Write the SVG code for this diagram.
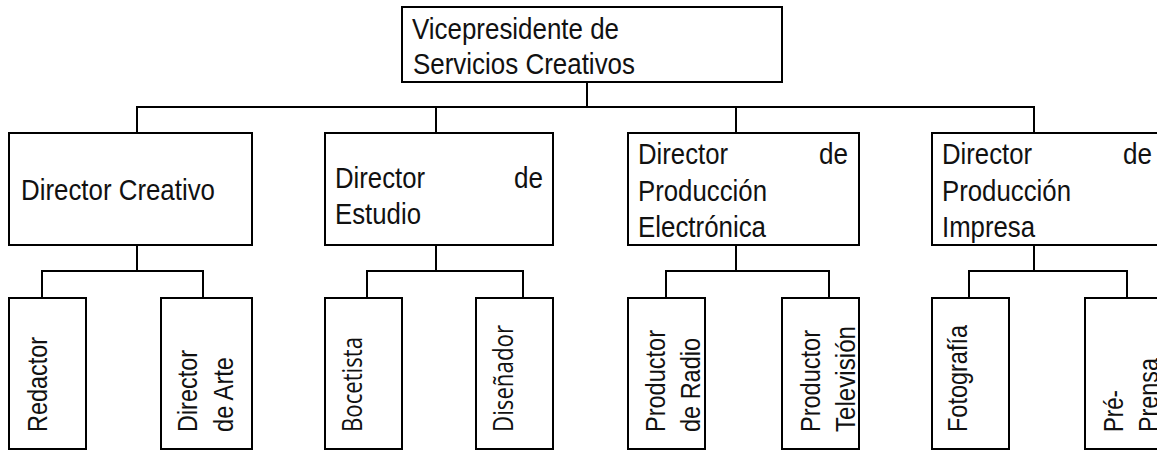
<svg xmlns="http://www.w3.org/2000/svg" width="1157" height="450" viewBox="0 0 1157 450">
<style>
  .box{fill:#fff;stroke:#000;stroke-width:2}
  .ln{fill:none;stroke:#000;stroke-width:2;stroke-linecap:square}
  .t{font-family:"Liberation Sans",Arial,sans-serif;font-size:29px;fill:#111}
  .v{font-family:"Liberation Sans",Arial,sans-serif;font-size:28px;fill:#111}
  .h{font-family:"Open Sans","Noto Sans",sans-serif;font-size:27px;fill:#111}
</style>
<rect width="1157" height="450" fill="#fff"/>
<g id="connectors">
  <path class="ln" d="M587 82V107M137 107H1034M137 107V133M436 107V133M736 107V133M1034 107V133"/>
  <path class="ln" d="M137 245V271M42 271H203M42 271V298M203 271V298"/>
  <path class="ln" d="M436 245V271M367 271H523M367 271V298M523 271V298"/>
  <path class="ln" d="M736 245V271M666 271H829M666 271V298M829 271V298"/>
  <path class="ln" d="M1034 245V271M969 271H1127M969 271V298M1127 271V298"/>
</g>
<g id="vp">
  <rect class="box" x="402" y="7" width="380" height="75"/>
  <text class="t" x="412" y="39" textLength="207" lengthAdjust="spacingAndGlyphs">Vicepresidente de</text>
  <text class="t" x="413" y="74" textLength="222" lengthAdjust="spacingAndGlyphs">Servicios Creativos</text>
</g>
<g id="dir-creativo">
  <rect class="box" x="9" y="133" width="243" height="112"/>
  <text class="t" x="21" y="200" textLength="194" lengthAdjust="spacingAndGlyphs">Director Creativo</text>
</g>
<g id="dir-estudio">
  <rect class="box" x="325" y="133" width="228" height="112"/>
  <text class="t" x="335" y="188" textLength="90" lengthAdjust="spacingAndGlyphs">Director</text>
  <text class="t" x="543" y="188" text-anchor="end" textLength="29" lengthAdjust="spacingAndGlyphs">de</text>
  <text class="t" x="335" y="224" textLength="86" lengthAdjust="spacingAndGlyphs">Estudio</text>
</g>
<g id="dir-electronica">
  <rect class="box" x="628" y="133" width="231" height="112"/>
  <text class="t" x="638" y="164" textLength="90" lengthAdjust="spacingAndGlyphs">Director</text>
  <text class="t" x="848" y="164" text-anchor="end" textLength="29" lengthAdjust="spacingAndGlyphs">de</text>
  <text class="t" x="638" y="201" textLength="129" lengthAdjust="spacingAndGlyphs">Producción</text>
  <text class="t" x="638" y="237" textLength="128" lengthAdjust="spacingAndGlyphs">Electrónica</text>
</g>
<g id="dir-impresa">
  <rect class="box" x="932" y="133" width="231" height="112"/>
  <text class="t" x="942" y="164" textLength="90" lengthAdjust="spacingAndGlyphs">Director</text>
  <text class="t" x="1152" y="164" text-anchor="end" textLength="29" lengthAdjust="spacingAndGlyphs">de</text>
  <text class="t" x="942" y="201" textLength="129" lengthAdjust="spacingAndGlyphs">Producción</text>
  <text class="t" x="942" y="237" textLength="93" lengthAdjust="spacingAndGlyphs">Impresa</text>
</g>
<g id="redactor">
  <rect class="box" x="9" y="298" width="77" height="151"/>
  <text class="v" transform="translate(47 432) rotate(-90)" textLength="95" lengthAdjust="spacingAndGlyphs">Redactor</text>
</g>
<g id="dir-arte">
  <rect class="box" x="161" y="298" width="91" height="151"/>
  <text class="v" transform="translate(197 432) rotate(-90)" textLength="82" lengthAdjust="spacingAndGlyphs">Director</text>
  <text class="v" transform="translate(233 432) rotate(-90)" textLength="75" lengthAdjust="spacingAndGlyphs">de Arte</text>
</g>
<g id="bocetista">
  <rect class="box" x="325" y="298" width="77" height="151"/>
  <text class="h" transform="translate(362 432) rotate(-90)" textLength="95" lengthAdjust="spacingAndGlyphs">Bocetista</text>
</g>
<g id="disenador">
  <rect class="box" x="476" y="298" width="77" height="151"/>
  <text class="h" transform="translate(513 432) rotate(-90)" textLength="107" lengthAdjust="spacingAndGlyphs">Diseñador</text>
</g>
<g id="prod-radio">
  <rect class="box" x="628" y="298" width="77" height="151"/>
  <text class="v" transform="translate(665 432) rotate(-90)" textLength="102" lengthAdjust="spacingAndGlyphs">Productor</text>
  <text class="v" transform="translate(700 432) rotate(-90)" textLength="94" lengthAdjust="spacingAndGlyphs">de Radio</text>
</g>
<g id="prod-tv">
  <rect class="box" x="782" y="298" width="77" height="151"/>
  <text class="v" transform="translate(820 432) rotate(-90)" textLength="102" lengthAdjust="spacingAndGlyphs">Productor</text>
  <text class="v" transform="translate(855 432) rotate(-90)" textLength="106" lengthAdjust="spacingAndGlyphs">Televisión</text>
</g>
<g id="fotografia">
  <rect class="box" x="932" y="298" width="77" height="151"/>
  <text class="v" transform="translate(967 432) rotate(-90)" textLength="107" lengthAdjust="spacingAndGlyphs">Fotografía</text>
</g>
<g id="preprensa">
  <rect class="box" x="1085" y="298" width="77" height="151"/>
  <text class="v" transform="translate(1123 432) rotate(-90)" textLength="42" lengthAdjust="spacingAndGlyphs">Pré-</text>
  <text class="v" transform="translate(1158 432) rotate(-90)" textLength="74" lengthAdjust="spacingAndGlyphs">Prensa</text>
</g>
</svg>
